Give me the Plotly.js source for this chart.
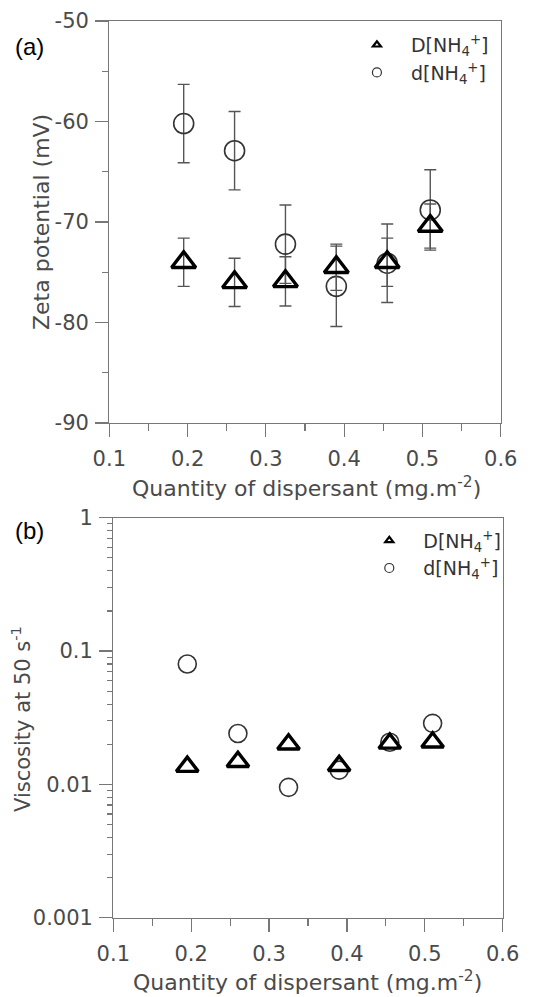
<!DOCTYPE html>
<html>
<head>
<meta charset="utf-8">
<script src="https://cdn.plot.ly/plotly-3.0.1.min.js"></script>
<style>html,body{margin:0;padding:0;background:#fff;}#chart{width:538px;height:997px;}</style>
</head>
<body>
<div id="chart"></div>
<script>
// Quantity of dispersant (mg.m-2)
const dispersant = [0.195, 0.26, 0.325, 0.39, 0.455, 0.51];
// (a) Zeta potential (mV)
const zetaBig = [-74.0, -76.0, -75.9, -74.5, -74.0, -70.4];      // D[NH4+]
const zetaBigErr = [2.4, 2.4, 2.45, 2.3, 2.4, 2.2];
const zetaSmall = [-60.2, -62.9, -72.2, -76.4, -74.1, -68.8];    // d[NH4+]
const zetaSmallErr = [3.9, 3.9, 3.9, 4.0, 3.9, 4.0];
// (b) Viscosity at 50 s-1
const viscBig = [0.0136, 0.0148, 0.0200, 0.0138, 0.0203, 0.0207];  // D[NH4+]
const viscSmall = [0.080, 0.0241, 0.0095, 0.0128, 0.0207, 0.0287]; // d[NH4+]
const seriesNames = ['D[NH<sub>4</sub><sup>+</sup>]', 'd[NH<sub>4</sub><sup>+</sup>]'];
const xTicks = [0.1, 0.2, 0.3, 0.4, 0.5, 0.6];
const yTicksA = [-90, -80, -70, -60, -50];
const yTickTextA = ['-90', '-80', '-70', '-60', '-50'];
const yTicksB = [0.001, 0.01, 0.1, 1];
const yTickTextB = ['0.001', '0.01', '0.1', '1'];
const xTitle = 'Quantity of dispersant (mg.m<sup>-2</sup>)';
const yTitleA = 'Zeta potential (mV)';
const yTitleB = 'Viscosity at 50 s<sup>-1</sup>';

const FONT = 'DejaVu Sans, sans-serif';
const TXT = '#4a4a4a';
const AX = '#777';

const circ = {symbol: 'circle-open', size: 20, color: '#333', line: {width: 1.6, color: '#333'}};
const tri = {symbol: 'triangle-up-open', size: 21, color: '#000', line: {width: 3.4, color: '#000'}};
const circB = {symbol: 'circle-open', size: 18, color: '#333', line: {width: 1.6, color: '#333'}};
const triB = {symbol: 'triangle-up-open', size: 19, color: '#000', line: {width: 3.4, color: '#000'}};

const errStyle = {type: 'data', color: '#555', thickness: 1.4, width: 6};

const legTri = {symbol: 'triangle-up-open', size: 7, color: '#000', line: {width: 2.2, color: '#000'}};
const legCirc = {symbol: 'circle-open', size: 9, color: '#333', line: {width: 1.2, color: '#333'}};

const traces = [
  {x: dispersant, y: zetaSmall, mode: 'markers', marker: circ, showlegend: false, xaxis: 'x', yaxis: 'y',
   error_y: Object.assign({array: zetaSmallErr}, errStyle)},
  {x: dispersant, y: zetaBig, mode: 'markers', marker: tri, showlegend: false, xaxis: 'x', yaxis: 'y',
   error_y: Object.assign({array: zetaBigErr}, errStyle)},
  {x: dispersant, y: viscSmall, mode: 'markers', marker: circB, showlegend: false, xaxis: 'x2', yaxis: 'y2'},
  {x: dispersant, y: viscBig, mode: 'markers', marker: triB, showlegend: false, xaxis: 'x2', yaxis: 'y2'},
  // legend entries
  {x: [null], y: [null], mode: 'markers', name: seriesNames[0], legend: 'legend', xaxis: 'x', yaxis: 'y', marker: legTri},
  {x: [null], y: [null], mode: 'markers', name: seriesNames[1], legend: 'legend', xaxis: 'x', yaxis: 'y', marker: legCirc},
  {x: [null], y: [null], mode: 'markers', name: seriesNames[0], legend: 'legend2', xaxis: 'x2', yaxis: 'y2', marker: legTri},
  {x: [null], y: [null], mode: 'markers', name: seriesNames[1], legend: 'legend2', xaxis: 'x2', yaxis: 'y2', marker: legCirc}
];

function xax(domain, anchor) {
  return {
    domain: domain, anchor: anchor, range: [0.1, 0.6],
    tickvals: xTicks, ticktext: xTicks.map(v => v.toFixed(1)),
    ticks: 'outside', ticklen: 13, tickwidth: 1.2, tickcolor: AX,
    minor: {dtick: 0.05, ticks: 'outside', ticklen: 7, tickcolor: AX, showgrid: false},
    showline: true, linecolor: AX, linewidth: 1.2, mirror: true,
    showgrid: false, zeroline: false, ticklabelstandoff: 4,
    tickfont: {family: FONT, size: 21, color: TXT}
  };
}
function yax(domain, anchor) {
  return {
    domain: domain, anchor: anchor,
    ticks: 'outside', ticklen: 13, tickwidth: 1.2, tickcolor: AX,
    showline: true, linecolor: AX, linewidth: 1.2, mirror: true,
    showgrid: false, zeroline: false, ticklabelstandoff: 2,
    tickfont: {family: FONT, size: 21, color: TXT}
  };
}

const yA = Object.assign(yax([0.5757, 0.9789], 'x'), {
  range: [-90, -50], tickvals: yTicksA, ticktext: yTickTextA,
  minor: {dtick: 5, ticks: 'outside', ticklen: 6, tickcolor: AX, showgrid: false}
});
const yB = Object.assign(yax([0.0795, 0.4807], 'x2'), {
  type: 'log', range: [-3, 0], tickvals: yTicksB, ticktext: yTickTextB,
  minor: {dtick: 'D1', ticks: 'outside', ticklen: 5, tickcolor: AX, showgrid: false}
});

function ann(text, xpx, ypx, angle, size, color, fam, anchorX) {
  return {text: text, xref: 'paper', yref: 'paper', x: xpx / 538, y: 1 - ypx / 997,
    xanchor: anchorX || 'center', yanchor: 'middle', textangle: angle, showarrow: false,
    font: {family: fam || FONT, size: size, color: color || TXT}};
}

const layout = {
  width: 538, height: 997,
  margin: {l: 0, r: 0, t: 0, b: 0},
  paper_bgcolor: '#fff', plot_bgcolor: '#fff',
  font: {family: FONT, color: TXT},
  xaxis: xax([0.2032, 0.9307], 'y'),
  yaxis: yA,
  xaxis2: xax([0.2106, 0.9344], 'y2'),
  yaxis2: yB,
  legend: {
    x: 0.6374, y: 0.974, xanchor: 'left', yanchor: 'top', bgcolor: 'rgba(0,0,0,0)',
    itemwidth: 58, tracegroupgap: 0, font: {family: FONT, size: 19, color: '#333'}
  },
  legend2: {
    x: 0.6604, y: 0.477, xanchor: 'left', yanchor: 'top', bgcolor: 'rgba(0,0,0,0)',
    itemwidth: 58, tracegroupgap: 0, font: {family: FONT, size: 19, color: '#333'}
  },
  annotations: [
    ann('(a)', 13, 47, 0, 24, '#000', 'Liberation Sans, Arial, sans-serif', 'left'),
    ann('(b)', 13, 530, 0, 24, '#000', 'Liberation Sans, Arial, sans-serif', 'left'),
    ann(yTitleA, 41, 222, -90, 22),
    ann(yTitleB, 21, 719, -90, 21),
    ann(xTitle, 306, 487, 0, 22),
    ann(xTitle, 307, 981, 0, 22)
  ]
};

Plotly.newPlot('chart', traces, layout, {displayModeBar: false, staticPlot: true});
</script>
</body>
</html>
